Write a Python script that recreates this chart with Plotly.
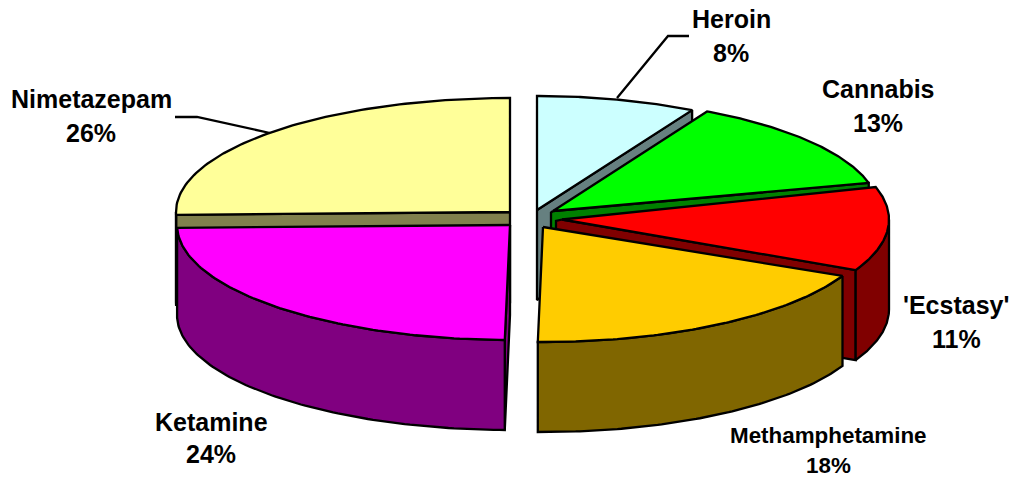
import math
import plotly.graph_objects as go

# --- data ---
categories = ["Heroin", "Cannabis", "'Ecstasy'", "Methamphetamine", "Ketamine", "Nimetazepam"]
values = [8, 13, 11, 18, 24, 26]

# --- styling and layout of the exploded 3-D pie ---
top_colors = ["#CCFFFF", "#00FF00", "#FF0000", "#FFCC00", "#FF00FF", "#FFFF99"]
side_colors = ["#668080", "#008000", "#800000", "#806600", "#800080", "#80804D"]
centers_x = [537, 553, 562, 543, 510, 510]
centers_y = [210, 211, 219.5, 227, 225, 212]
radii_x = [322, 326, 327, 331, 333, 334]
radii_y = [114, 113, 115, 115, 115, 114]
start_nudge = [0, -0.6, -2, 0, 0.9, 2.2]
end_nudge = [0, 0, 0.9, 0.9, 2.2, 0]
wall_left = [0, -2, -6, 0, 0, 0]
DEPTH = 90
EDGE = dict(color="#000000", width=2.3)

label_x = [731, 878, 956, 828, 211, 91]
name_y = [19, 89, 305, 435, 422, 99]
pct_y = [53, 123, 339, 465, 454, 133]
label_size = [25, 25, 25, 22.4, 25, 25]

# leader lines (Heroin, Nimetazepam)
leaders = [([617, 668, 689], [98, 36, 36]), ([175, 197, 270], [117, 117, 133])]

# slice angles from the values, measured clockwise from 12 o'clock
total = sum(values)
cum = [0]
for v in values:
    cum.append(cum[-1] + v / total * 360)
slices = []
for i in range(len(values)):
    slices.append(dict(a0=cum[i] + start_nudge[i], a1=cum[i + 1] + end_nudge[i],
                       cx=centers_x[i], cy=centers_y[i], rx=radii_x[i], ry=radii_y[i], i=i))


def pt(s, ang, drop=0):
    r = math.radians(ang)
    return s["cx"] + s["rx"] * math.sin(r), s["cy"] - s["ry"] * math.cos(r) + drop


def arc(s, a0, a1, drop=0, n=90):
    return [pt(s, a0 + (a1 - a0) * k / n, drop) for k in range(n + 1)]


fig = go.Figure()


def poly(points, fill):
    xs = [p[0] for p in points] + [points[0][0]]
    ys = [p[1] for p in points] + [points[0][1]]
    fig.add_trace(go.Scatter(x=xs, y=ys, mode="lines", fill="toself", fillcolor=fill,
                             line=EDGE, hoverinfo="skip", showlegend=False))


def radial_wall(s, ang):
    apex = (s["cx"], s["cy"])
    rim = pt(s, ang)
    dx = wall_left[s["i"]]
    pts = [apex]
    if dx:
        pts.append((apex[0] + dx, apex[1] + 1.5))
        pts.append((apex[0] + dx, apex[1] + DEPTH))
    else:
        pts.append((apex[0], apex[1] + DEPTH))
    pts += [(rim[0], rim[1] + DEPTH), rim]
    poly(pts, side_colors[s["i"]])


def outer_wall(s):
    a0 = max(s["a0"], 90)
    a1 = min(s["a1"], 270)
    if a1 <= a0:
        return
    poly(arc(s, a0, a1) + arc(s, a1, a0, DEPTH), side_colors[s["i"]])


def top(s):
    poly([(s["cx"], s["cy"])] + arc(s, s["a0"], s["a1"]), top_colors[s["i"]])


wall_rule = {0: "a1", 1: "a1", 2: "a1", 4: "a0", 5: "a0"}
for i in [5, 0, 1, 2, 4, 3]:
    s = slices[i]
    if i in wall_rule:
        radial_wall(s, s[wall_rule[i]])
    outer_wall(s)
    top(s)

for lx, ly in leaders:
    fig.add_trace(go.Scatter(x=lx, y=ly, mode="lines", line=EDGE, hoverinfo="skip", showlegend=False))

annotations = []
for i, c in enumerate(categories):
    for txt, y in ((c, name_y[i]), (f"{values[i]}%", pct_y[i])):
        annotations.append(dict(x=label_x[i], y=y, text=f"<b>{txt}</b>", showarrow=False,
                                xanchor="center", yanchor="middle", xref="x", yref="y",
                                font=dict(family="Liberation Sans", size=label_size[i], color="#000000")))

fig.update_layout(width=1013, height=477, margin=dict(l=0, r=0, t=0, b=0), autosize=False,
                  paper_bgcolor="#FFFFFF", plot_bgcolor="#FFFFFF", showlegend=False,
                  annotations=annotations,
                  xaxis=dict(range=[0, 1013], visible=False, fixedrange=True),
                  yaxis=dict(range=[477, 0], visible=False, fixedrange=True))
fig.write_html("out.html", config={"displayModeBar": False},
               post_script="document.body.style.margin='0';document.documentElement.style.overflow='hidden';")
